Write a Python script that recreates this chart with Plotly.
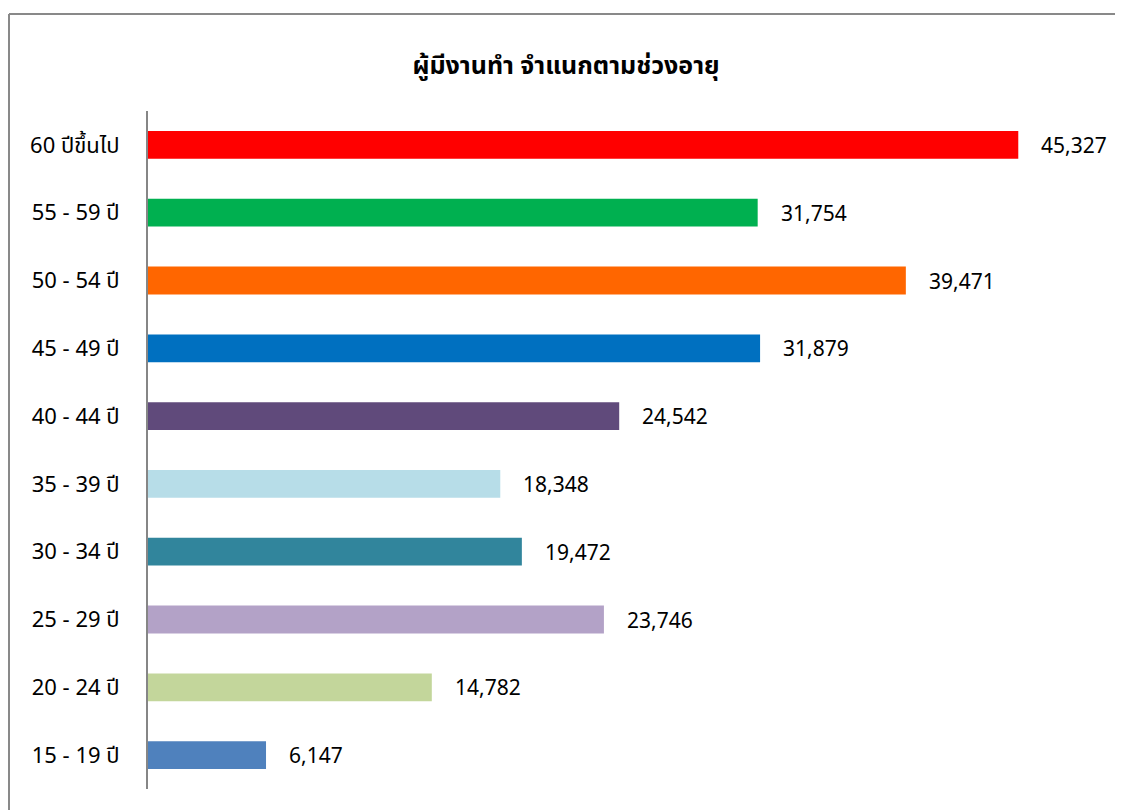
import plotly.graph_objects as go

categories = ["15 - 19 ปี", "20 - 24 ปี", "25 - 29 ปี", "30 - 34 ปี", "35 - 39 ปี",
              "40 - 44 ปี", "45 - 49 ปี", "50 - 54 ปี", "55 - 59 ปี", "60 ปีขึ้นไป"]
values = [6147, 14782, 23746, 19472, 18348, 24542, 31879, 39471, 31754, 45327]
colors = ["#4F81BD", "#C3D69B", "#B3A2C7", "#31859C", "#B7DDE8",
          "#604A7B", "#0070C0", "#FF6600", "#00B050", "#FF0000"]
title_text = "ผู้มีงานทำ จำแนกตามช่วงอายุ"

FONT = "Tahoma, Noto Sans, Noto Sans Thai, sans-serif"

W, H = 1115, 802
L, R, T, B = 140, 15, 103, 21
PW = W - L - R
PH = H - T - B

fig = go.Figure()
fig.add_trace(go.Bar(
    y=categories, x=values, orientation="h",
    marker=dict(color=colors, line=dict(width=0)),
    width=0.41, hoverinfo="x+y",
))

for c, v in zip(categories, values):
    fig.add_annotation(x=v, y=c, text=f"{v:,}", showarrow=False,
                       xanchor="left", xshift=21, yanchor="middle",
                       font=dict(size=21, color="#000000", family=FONT))

bx = (1 - L) / PW
by = (H - B - 6) / PH
border = dict(color="#898989", width=2)
fig.add_shape(type="line", xref="paper", yref="paper",
              x0=bx, x1=1.2, y0=by, y1=by, line=border, layer="below")
fig.add_shape(type="line", xref="paper", yref="paper",
              x0=bx, x1=bx, y0=-0.2, y1=by, line=border, layer="below")

fig.update_layout(
    width=W, height=H,
    margin=dict(l=L, r=R, t=T, b=B),
    paper_bgcolor="white", plot_bgcolor="white",
    showlegend=False,
    title=dict(text=f"<b>{title_text}</b>", x=558 / W, xref="container",
               y=1 - 57 / H, yref="container", yanchor="middle", xanchor="center",
               font=dict(size=25, color="#000000", family=FONT)),
    xaxis=dict(range=[0, 50000], showgrid=False, zeroline=False, showline=False,
               showticklabels=False, ticks=""),
    yaxis=dict(showgrid=False, zeroline=False, showline=True, linecolor="#868686",
               linewidth=2, ticks="", ticklabelstandoff=22,
               tickfont=dict(size=22, color="#000000", family=FONT),
               categoryorder="array", categoryarray=categories),
    font=dict(family=FONT),
)

fig.write_html("out.html")
